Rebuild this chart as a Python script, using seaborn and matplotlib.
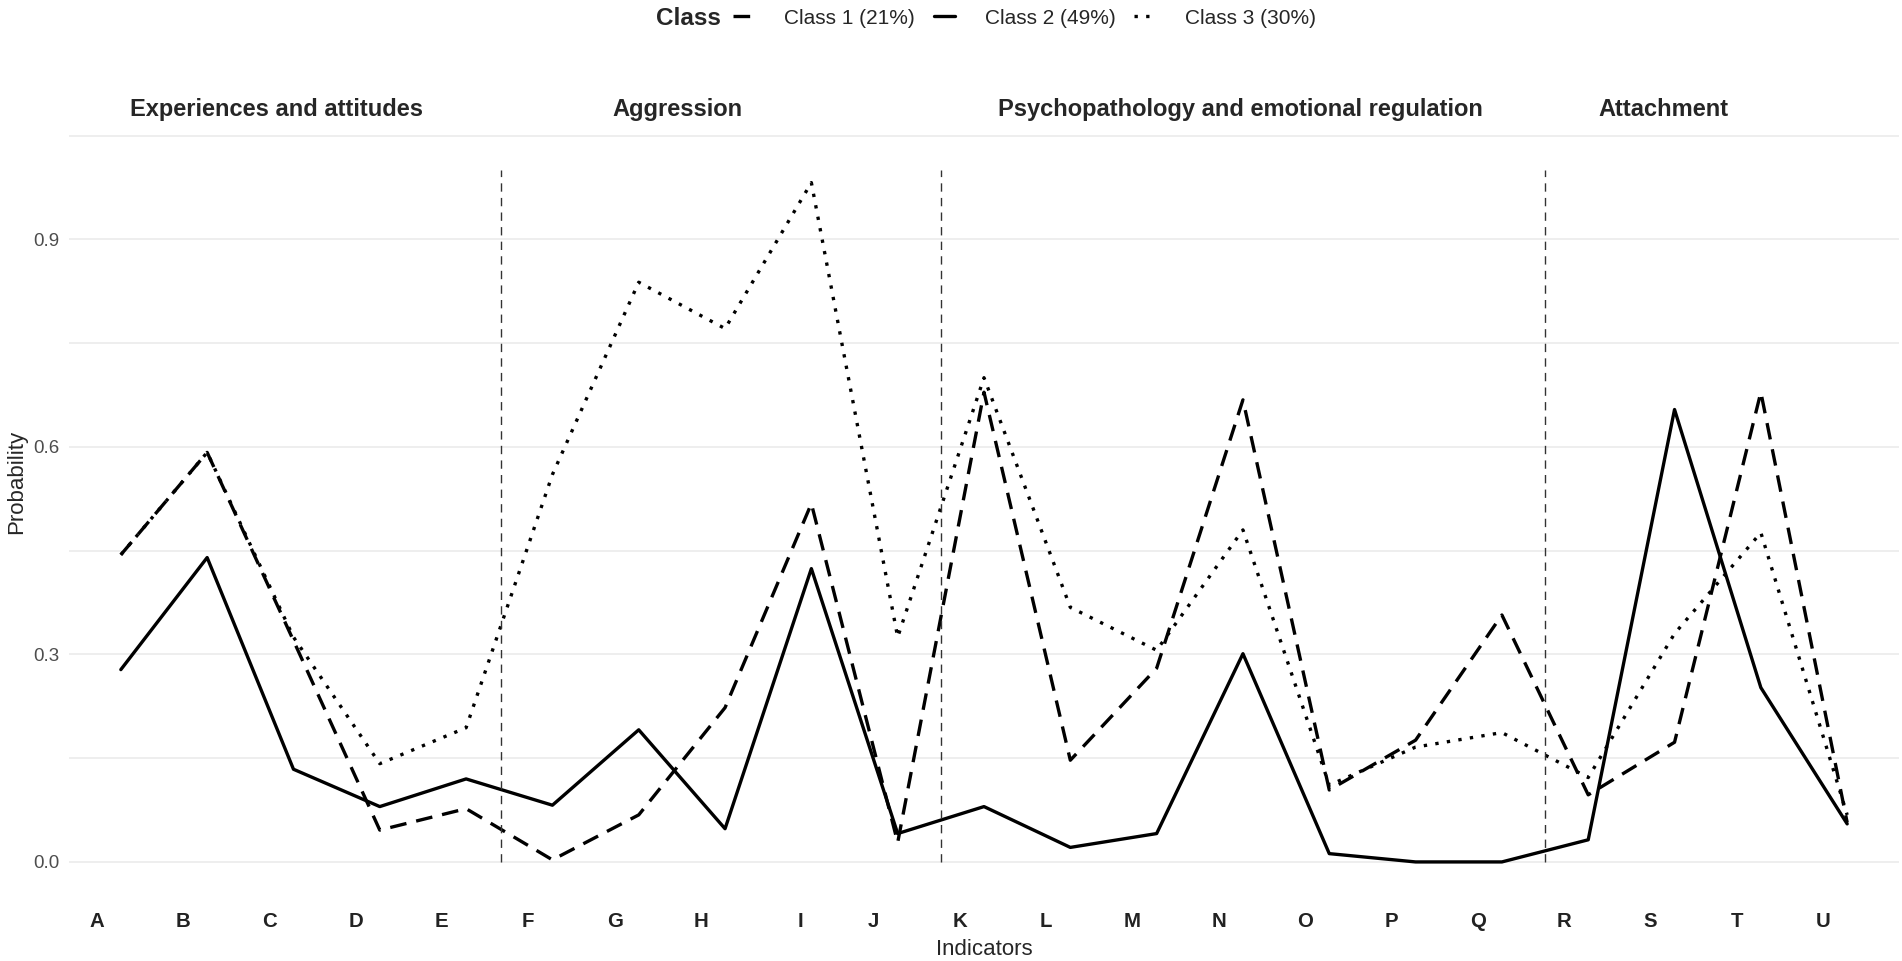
import numpy as np
import pandas as pd
import seaborn as sns
import matplotlib.pyplot as plt
from matplotlib.lines import Line2D

# values
indicators = list("ABCDEFGHIJKLMNOPQRSTU")
class1 = [0.444, 0.592, 0.32, 0.046, 0.077, 0.003, 0.068, 0.223, 0.518, 0.028, 0.679,
          0.147, 0.28, 0.668, 0.104, 0.176, 0.357, 0.097, 0.173, 0.679, 0.057]
class2 = [0.278, 0.440, 0.134, 0.080, 0.120, 0.082, 0.191, 0.048, 0.424, 0.041, 0.080,
          0.021, 0.041, 0.301, 0.012, 0.0, 0.0, 0.032, 0.654, 0.252, 0.055]
class3 = [0.444, 0.592, 0.325, 0.142, 0.194, 0.56, 0.838, 0.771, 0.982, 0.325, 0.70,
          0.368, 0.306, 0.480, 0.111, 0.166, 0.187, 0.122, 0.33, 0.476, 0.068]
class_names = ["Class 1 (21%)", "Class 2 (49%)", "Class 3 (30%)"]
groups = ["Experiences and attitudes", "Aggression",
          "Psychopathology and emotional regulation", "Attachment"]
group_centers = [1.8, 6.45, 12.97, 17.87]
dividers = [4.4, 9.5, 16.5]

# tick labels sit a bit left of the points in the original (the "I" less so)
label_shift = np.full(len(indicators), 0.28)
label_shift[indicators.index("I")] = 0.13

sns.set_theme(style="white")
plt.rcParams['font.family'] = ['Liberation Sans', 'DejaVu Sans']

pos = np.arange(len(indicators))
df = pd.concat([
    pd.DataFrame({"pos": pos, "prob": vals, "Class": name})
    for name, vals in zip(class_names, [class1, class2, class3])
], ignore_index=True)

fig = plt.figure(figsize=(19.02, 9.61), dpi=100)
ax = fig.add_axes([0.0363, 0.0635, 0.9621, 0.871])

dash_map = {class_names[0]: (5, 3), class_names[1]: "", class_names[2]: (1, 2.5)}
sns.lineplot(data=df, x="pos", y="prob", style="Class", dashes=dash_map,
             color="black", linewidth=2.4, estimator=None, legend=False, ax=ax)

ax.vlines(dividers, 0, 1, colors="#333333", linestyles=(0, (6, 4.5)), lw=1.0)

for name, c in zip(groups, group_centers):
    ax.text(c, 1.088, name, ha="center", va="center", fontsize=17, fontweight="bold")

ax.set_xlim(-0.6, 20.6)
ax.set_ylim(-0.055, 1.155)
ax.set_yticks([0, 0.3, 0.6, 0.9], ["0.0", "0.3", "0.6", "0.9"])
ax.set_yticks([0.15, 0.45, 0.75, 1.05], minor=True)
ax.set_xticks(pos - label_shift, indicators)
ax.grid(False)
ax.yaxis.grid(True, which="both", color="#EBEBEB", lw=1.2)
ax.set_axisbelow(True)
for s in ax.spines.values():
    s.set_visible(False)

ax.tick_params(axis="x", length=0, pad=8.6, labelsize=14.7, labelcolor="#222222")
ax.tick_params(axis="y", which="both", length=0, pad=7.2, labelsize=13.5, labelcolor="#4D4D4D")
for t in ax.get_xticklabels():
    t.set_fontweight("bold")

ax.set_xlabel("Indicators", fontsize=16, labelpad=5.5)
ax.set_ylabel("Probability", fontsize=16, labelpad=4)

# legend on top, title on the left
handles = [Line2D([], [], color="black", lw=2.4, dashes=dash_map[n]) if dash_map[n] != ""
           else Line2D([], [], color="black", lw=2.4) for n in class_names]
fig.text(721 / 1902, 0.981, "Class", ha="right", va="center", fontsize=17.5, fontweight="bold")
fig.legend(handles, class_names, loc="center left", bbox_to_anchor=(733 / 1902, 0.981),
           ncol=3, frameon=False, fontsize=15, handlelength=1.05, handletextpad=1.4,
           columnspacing=0.9, borderpad=0, borderaxespad=0)

fig.savefig("out.png", dpi=100)
